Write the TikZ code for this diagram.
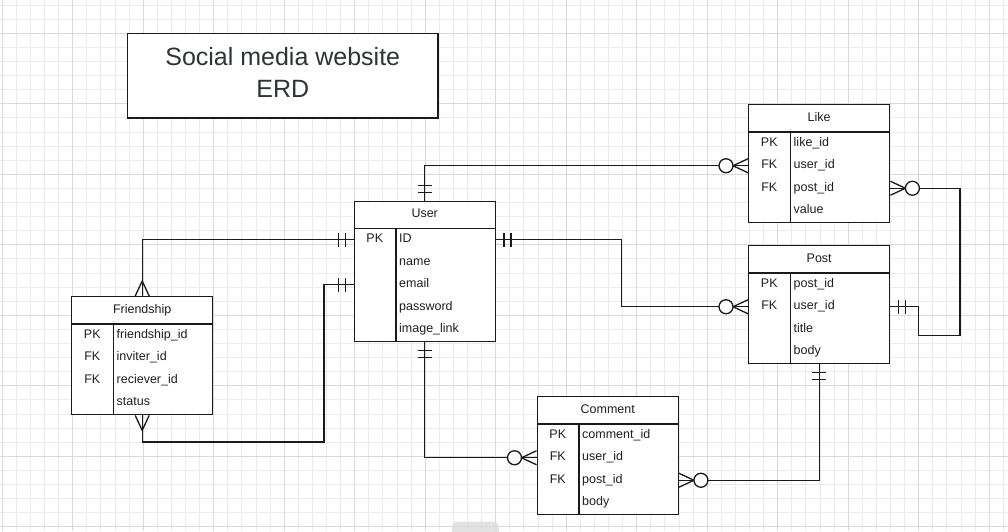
\documentclass[tikz,border=0pt]{standalone}
\usepackage{fontspec}
\setmainfont{Liberation Sans}
\usetikzlibrary{calc}

\definecolor{gridminor}{HTML}{EBEBEB}
\definecolor{gridmajor}{HTML}{D9D9D9}
\definecolor{inkline}{HTML}{1A1A1A}
\definecolor{titleink}{HTML}{2E3338}
\definecolor{tabgray}{HTML}{DCDCDC}

\tikzset{
  tablebox/.style={draw=inkline, line width=1.4pt, fill=white, minimum width=141pt,
                   inner sep=0pt, anchor=north west},
  tableline/.style={draw=inkline, line width=1.4pt},
  cell/.style={font=\fontsize{12.5}{15}\selectfont, inner sep=0pt, text height=9pt,
               text depth=3pt, text=black!88},
  conn/.style={draw=inkline, line width=1.4pt},
  tip/.style={draw=inkline, line width=1.3pt, line join=round},
}

% ER table: name, left x, top y, number of rows, title, key/field list
\newcommand{\ertable}[6]{%
  \node[tablebox, minimum height={28pt+#4*22.5pt}] (#1) at (#2,#3) {};
  \node[cell] (#1-head) at ([yshift=-14pt]#1.north) {#5};
  \draw[tableline] ([yshift=-28pt]#1.north west) -- ([yshift=-28pt]#1.north east);
  \draw[tableline] ([xshift=42.5pt,yshift=-28pt]#1.north west) -- ([xshift=42.5pt]#1.south west);
  \foreach \k/\f [count=\i] in {#6} {
    \node[cell] (#1-k\i) at ([xshift=21.25pt,yshift={-28pt-(\i-0.5)*22.5pt}]#1.north west) {\k};
    \node[cell, anchor=west] (#1-r\i) at ([xshift=45.5pt,yshift={-28pt-(\i-0.5)*22.5pt}]#1.north west) {\f};
  }}

% relationship ends: point on the table border, direction (degrees) pointing away from it
\newcommand{\markone}[2]{%
  \begin{scope}[shift={(#1)}, rotate=#2]
    \draw[tip] (8pt,-7pt) -- (8pt,7pt) (15pt,-7pt) -- (15pt,7pt);
  \end{scope}}
\newcommand{\markmany}[2]{%
  \begin{scope}[shift={(#1)}, rotate=#2]
    \draw[tip] (0pt,7pt) -- (15pt,0pt) -- (0pt,-7pt);
  \end{scope}}
\newcommand{\markzeromany}[2]{%
  \begin{scope}[shift={(#1)}, rotate=#2]
    \draw[tip] (0pt,7pt) -- (15pt,0pt) -- (0pt,-7pt);
    \draw[tip, fill=white] (22pt,0pt) circle[radius=7pt];
  \end{scope}}

\begin{document}
\begin{tikzpicture}[x=1pt, y=-1pt]
  \useasboundingbox (0,0) rectangle (1008,531);
  \clip (0,0) rectangle (1008,531);
  \fill[white] (0,0) rectangle (1008,531);

  % background grid
  \foreach \i in {0,...,71} {
    \draw[gridminor, line width=1pt] ({2.2+14.1*\i},0) -- ({2.2+14.1*\i},531);
  }
  \foreach \i in {0,...,37} {
    \draw[gridminor, line width=1pt] (0,{5.1+14.1*\i}) -- (1008,{5.1+14.1*\i});
  }
  \foreach \i in {0,...,14} {
    \draw[gridmajor, line width=1pt] ({2.2+70.5*\i},0) -- ({2.2+70.5*\i},531);
  }
  \foreach \i in {0,...,7} {
    \draw[gridmajor, line width=1pt] (0,{33.3+70.5*\i}) -- (1008,{33.3+70.5*\i});
  }

  % title
  \node[draw=inkline, line width=1.3pt, fill=white, minimum width=310.5pt,
        minimum height=84.5pt, inner sep=0pt] (titlebox) at (282.75,75.75) {};
  \node[align=center, text=titleink, font=\fontsize{25}{32}\selectfont, inner sep=0pt]
        (titletext) at (282.75,72) {Social media website\\ERD};

  % tables
  \ertable{like}{748}{104}{4}{Like}{PK/like\_id, FK/user\_id, FK/post\_id, /value}
  \ertable{post}{748}{245}{4}{Post}{PK/post\_id, FK/user\_id, /title, /body}
  \ertable{user}{353.5}{200.5}{5}{User}{PK/ID, /name, /email, /password, /image\_link}
  \ertable{fr}{71}{296}{4}{Friendship}{PK/friendship\_id, FK/inviter\_id, FK/reciever\_id, /status}
  \ertable{comment}{536.5}{396}{4}{Comment}{PK/comment\_id, FK/user\_id, FK/post\_id, /body}

  % bend points
  \coordinate (bendA) at (621.5,300);
  \coordinate (bendB) at (324,442);
  \coordinate (bendC) at (918.5,335.5);
  \coordinate (bendD) at (960,250);

  % relationships
  \draw[conn] (user.north) |- (like.west |- like-r2);
  \draw[conn] (user.east |- user-r1) -| (bendA |- post-r2) -- (post.west |- post-r2);
  \draw[conn] (user.west |- user-r1) -| (fr.north);
  \draw[conn] (user.west |- user-r3) -| (bendB) -| (fr.south);
  \draw[conn] (post.east |- post-r2) -| (bendC) -| (bendD |- like-r3) -- (like.east |- like-r3);
  \draw[conn] (post.south) |- (comment.east |- comment-r3);
  \draw[conn] (user.south) |- (comment.west |- comment-r2);

  % cardinality marks
  \markone{user.north}{90}
  \markzeromany{like.west |- like-r2}{180}
  \markone{user.east |- user-r1}{0}
  \markzeromany{post.west |- post-r2}{180}
  \markone{user.west |- user-r1}{180}
  \markmany{fr.north}{90}
  \markone{user.west |- user-r3}{180}
  \markmany{fr.south}{270}
  \markone{post.east |- post-r2}{0}
  \markzeromany{like.east |- like-r3}{0}
  \markone{post.south}{270}
  \markzeromany{comment.east |- comment-r3}{0}
  \markone{user.south}{270}
  \markzeromany{comment.west |- comment-r2}{180}

  % page tab at the lower edge
  \fill[tabgray, opacity=0.85, rounded corners=6pt] (452,521.5) rectangle (499,545);
\end{tikzpicture}
\end{document}
